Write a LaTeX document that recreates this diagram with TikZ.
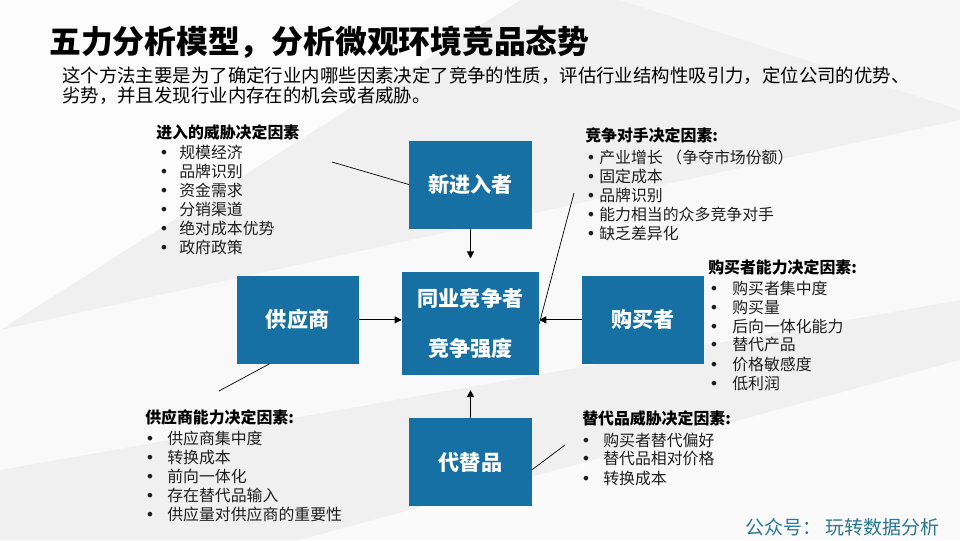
\documentclass[tikz,border=0pt]{standalone}
\usepackage{fontspec}
\setmainfont{Noto Sans CJK SC}
\newfontfamily\dotfont{DejaVu Sans}
\usetikzlibrary{arrows.meta,positioning}

\definecolor{boxblue}{RGB}{22,112,163}
\definecolor{markteal}{RGB}{40,118,148}
\definecolor{bggray}{RGB}{240,240,241}
\definecolor{txtgray}{RGB}{30,30,30}
\newlength\pxu
\setlength\pxu{0.025cm}
\newcommand\bul[1]{\makebox[#1\pxu][l]{\dotfont •}}

\begin{document}
\begin{tikzpicture} [x=0.025cm,y=-0.025cm,node distance=1.07cm,
  force/.style={fill=boxblue,text=white,font=\fontsize{15}{35}\selectfont\bfseries,
    minimum width=3.05cm,minimum height=2.2cm,inner sep=0pt},
  push/.style={-{Triangle[length=5pt,width=5pt]},line width=0.6pt},
  lead/.style={line width=0.5pt},
  head/.style={anchor=west,inner sep=0pt,font=\fontsize{11.3}{13}\selectfont\bfseries},
  item/.style={anchor=west,inner sep=0pt,text=txtgray,font=\fontsize{11.3}{13}\selectfont}]

  \useasboundingbox (0,0) rectangle (960,540);
  % background facets
  \fill[bggray] (0,0) rectangle (960,540);
  \fill[white,opacity=0.8] (0,0) -- (520,0) -- (0,330) -- cycle;
  \fill[white,opacity=0.6] (0,330) -- (960,120) -- (960,300) -- (0,470) -- cycle;
  \fill[white,opacity=0.7] (300,540) -- (960,360) -- (960,540) -- cycle;
  \fill[white,opacity=0.5] (620,0) -- (960,0) -- (960,110) -- cycle;

  \node[anchor=west,inner sep=0pt,font=\fontsize{22.6}{26}\selectfont\bfseries] (title) at (49,42) {五力分析模型，分析微观环境竞品态势};
  \node[anchor=west,inner sep=0pt,font=\fontsize{13.1}{15}\selectfont] (intro1) at (62,76) {这个方法主要是为了确定行业内哪些因素决定了竞争的性质，评估行业结构性吸引力，定位公司的优势、};
  \node[anchor=west,inner sep=0pt,font=\fontsize{13.1}{15}\selectfont] (intro2) at (62,96) {劣势，并且发现行业内存在的机会或者威胁。};

  % five forces
  \node[force,minimum width=3.425cm,minimum height=2.575cm,align=center] (rival) at (470.5,323.5) {同业竞争者\\竞争强度};
  \node[force] (entrant) [above=of rival] {新进入者};
  \node[force] (supplier) [left=of rival,yshift=0.09cm] {供应商};
  \node[force] (buyer) [right=of rival,yshift=0.09cm] {购买者};
  \node[force] (substitute) [below=of rival] {代替品};

  \path[push]
    (entrant) edge [shorten >=0.33cm] (rival)
    (supplier.east) edge (supplier.east -| rival.west)
    (buyer.west) edge (buyer.west -| rival.east)
    (substitute) edge [shorten >=0.37cm] (rival);

  % leader lines
  \coordinate (entrytip) at (332,162);
  \coordinate (rivaltip) at (574,193);
  \coordinate (supptip) at (219,391);
  \coordinate (subtip) at (565,445);
  \draw[lead] (entrant.west) -- (entrytip);
  \draw[lead] (rival.east) -- (rivaltip);
  \draw[lead] (supplier.-123) -- (supptip);
  \draw[lead] (substitute.-7) -- (subtip);

  % factor lists
  \node[head] (entryhead) at (156,132) {进入的威胁决定因素};
  \foreach \t [count=\i] in {规模经济,品牌识别,资金需求,分销渠道,绝对成本优势,政府政策}
    \node[item] (entry\i) at (159,133+19*\i) {\bul{20}\t};

  \node[head] (rivalhead) at (585,135) {竞争对手决定因素:};
  \foreach \t [count=\i] in {产业增长 （争夺市场份额）,固定成本,品牌识别,能力相当的众多竞争对手,缺乏差异化}
    \node[item] (rival\i) at (586,138+19*\i) {\bul{13}\t};

  \node[head] (buyerhead) at (708,267) {购买者能力决定因素:};
  \foreach \t [count=\i] in {购买者集中度,购买量,后向一体化能力,替代产品,价格敏感度,低利润}
    \node[item] (buyer\i) at (709,269+19*\i) {\bul{23}\t};

  \node[head] (supphead) at (145,417) {供应商能力决定因素:};
  \foreach \t [count=\i] in {供应商集中度,转换成本,前向一体化,存在替代品输入,供应量对供应商的重要性}
    \node[item] (supp\i) at (145,419+19*\i) {\bul{22}\t};

  \node[head] (subhead) at (582,418) {替代品威胁决定因素:};
  \foreach \t [count=\i] in {购买者替代偏好,替代品相对价格,转换成本}
    \node[item] (sub\i) at (581,421+19*\i) {\bul{22}\t};

  \node[anchor=east,inner sep=0pt,text=markteal,font=\fontsize{13.5}{15}\selectfont] (mark) at (940,527) {公众号： 玩转数据分析};

\end{tikzpicture}
\end{document}
